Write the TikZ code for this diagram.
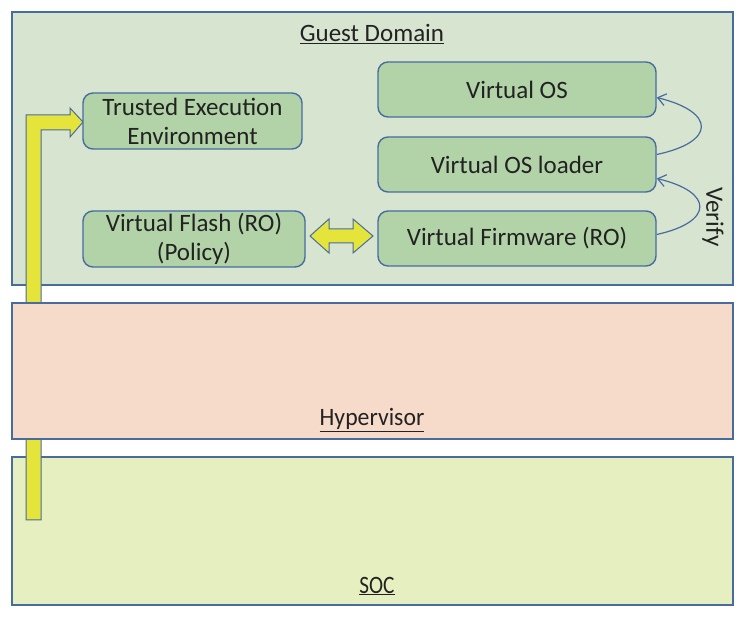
\documentclass[tikz,border=0pt]{standalone}
\usepackage{fontspec}
\setmainfont{Carlito}
\usepackage{tikz}
\usetikzlibrary{arrows.meta}
\usetikzlibrary{positioning}
\definecolor{edgeblue}{RGB}{72,108,160}
\definecolor{guestfill}{RGB}{214,228,208}
\definecolor{boxfill}{RGB}{178,211,167}
\definecolor{hypfill}{RGB}{246,219,203}
\definecolor{socfill}{RGB}{230,239,191}
\definecolor{fatyellow}{RGB}{228,228,58}
\definecolor{txt}{RGB}{34,34,34}
\tikzset{
    layer/.style={draw=edgeblue, line width=1.4pt},
    vbox/.style={draw=edgeblue, fill=boxfill, line width=1.4pt, rounded corners=10pt,
        minimum height=55pt, inner sep=0pt, align=center, text=txt},
    fatarrow/.style={draw=edgeblue, fill=fatyellow, line width=1pt, line join=miter},
    lbl/.style={text=txt, inner sep=0pt},
}

\begin{document}
\begin{tikzpicture}[x=1pt, y=-1pt, font=\fontsize{25}{29}\selectfont,
    >={Straight Barb[length=8pt, width=12pt]}]
    \useasboundingbox (0,0) rectangle (745,617);

    \filldraw[layer, fill=guestfill] (12,12) rectangle (733,285);
    \filldraw[layer, fill=socfill] (12,457) rectangle (733,605);

    % path from SOC up to the TEE
    \filldraw[fatarrow] (26,520) -- (26,115) -- (70,115) -- (70,108) -- (83,122)
        -- (70,137) -- (70,130) -- (41,130) -- (41,520) -- cycle;

    \filldraw[layer, fill=hypfill] (12,303) rectangle (733,439);

    \node[lbl] (guest) at (372,34) {\underline{Guest Domain}};
    \node[lbl] (hyp) at (372,420) {\scalebox{0.95}[1]{\underline{Hypervisor}}};
    \node[lbl] (soc) at (377,586) {\scalebox{0.85}[1]{\underline{SOC}}};

    \node[vbox, minimum width=219pt, minimum height=56pt] (tee) at (192.5,121) {Trusted Execution\\Environment};
    \node[vbox, minimum width=222pt, minimum height=56pt] (vflash) at (194,239) {Virtual Flash (RO)\\(Policy)};
    \node[vbox, minimum width=278pt] (vos) at (517,89.5) {Virtual OS};
    \node[vbox, minimum width=278pt] (vosl) at (517,164.5) {Virtual OS loader};
    \node[vbox, minimum width=278pt] (vfw) at (517,238.5) {Virtual Firmware (RO)};

    \filldraw[fatarrow] (310,236) -- (329,219) -- (329,229) -- (353,229) -- (353,219)
        -- (373,236) -- (353,253) -- (353,243) -- (329,243) -- (329,253) -- cycle;

    \draw[->, edgeblue, line width=1.2pt] ([yshift=4pt]vfw.east) .. controls (714,222) and (714,192) .. ([yshift=-14pt]vosl.east);
    \draw[->, edgeblue, line width=1.2pt] ([yshift=10pt]vosl.east) .. controls (716,142) and (716,112) .. ([yshift=-8pt]vos.east);
    \node[lbl, rotate=-90] (verify) at (713,217) {Verify};
\end{tikzpicture}
\end{document}
